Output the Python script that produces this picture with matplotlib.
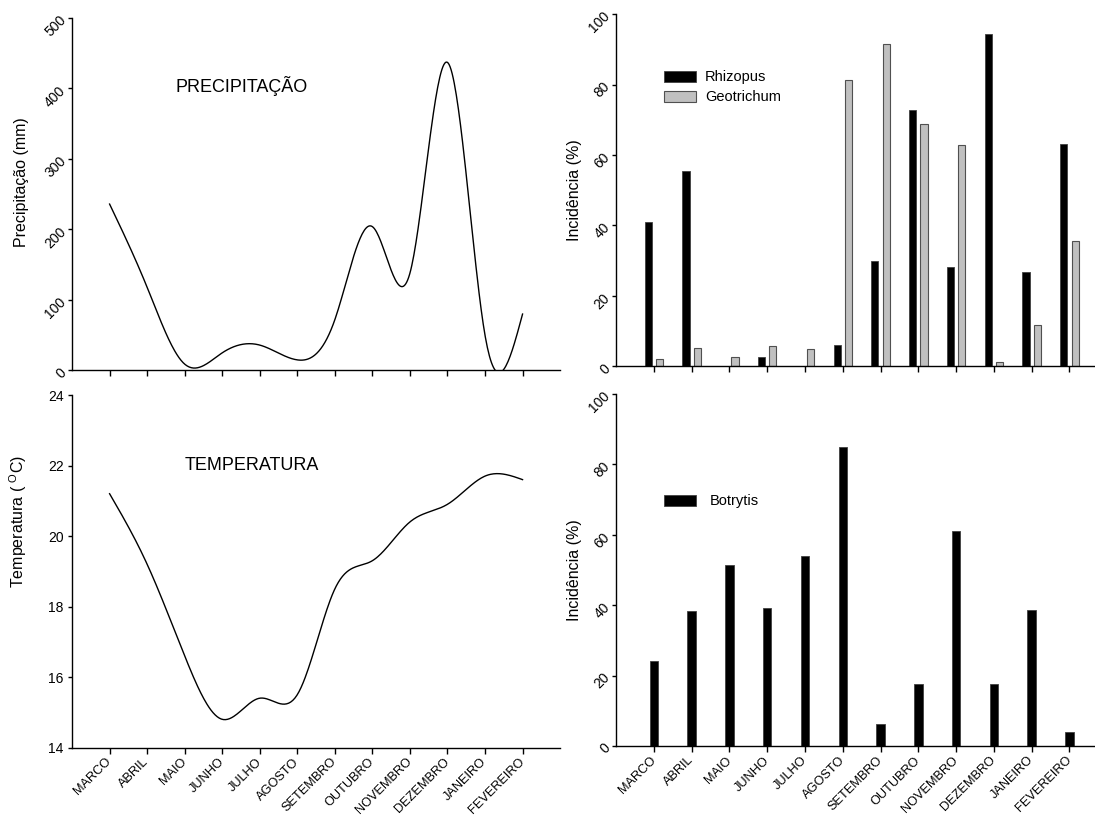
import numpy as np
import matplotlib
matplotlib.use('Agg')
import matplotlib.pyplot as plt

plt.rcParams['font.family'] = ['Liberation Sans', 'DejaVu Sans']
plt.rcParams['mathtext.default'] = 'regular'

meses = ['MARCO', 'ABRIL', 'MAIO', 'JUNHO', 'JULHO', 'AGOSTO', 'SETEMBRO',
         'OUTUBRO', 'NOVEMBRO', 'DEZEMBRO', 'JANEIRO', 'FEVEREIRO']

precipitacao = [236, 118, 9, 25, 36, 15, 72, 204, 138, 437, 50, 80]
temperatura = [21.2, 19.2, 16.6, 14.8, 15.4, 15.5, 18.5, 19.3, 20.4, 20.9, 21.7, 21.6]

rhizopus = [41.0, 55.4, 0, 2.8, 0, 6.0, 30.0, 72.7, 28.2, 94.2, 26.7, 63.1]
geotrichum = [2.1, 5.3, 2.6, 5.7, 4.9, 81.3, 91.4, 68.9, 62.7, 1.2, 11.7, 35.6]
botrytis = [24.1, 38.4, 51.4, 39.1, 54.0, 84.9, 6.3, 17.6, 61.1, 17.6, 38.5, 4.1]


def spline(x, y, n=400):
    # natural cubic spline, only used to draw a smooth line through the points
    x = np.asarray(x, float)
    y = np.asarray(y, float)
    m = len(x)
    h = np.diff(x)
    A = np.zeros((m, m))
    b = np.zeros(m)
    A[0, 0] = 1
    A[-1, -1] = 1
    for i in range(1, m - 1):
        A[i, i - 1] = h[i - 1]
        A[i, i] = 2 * (h[i - 1] + h[i])
        A[i, i + 1] = h[i]
        b[i] = 6 * ((y[i + 1] - y[i]) / h[i] - (y[i] - y[i - 1]) / h[i - 1])
    M = np.linalg.solve(A, b)
    xs = np.linspace(x[0], x[-1], n)
    k = np.clip(np.searchsorted(x, xs) - 1, 0, m - 2)
    t1 = x[k + 1] - xs
    t2 = xs - x[k]
    hk = h[k]
    ys = (M[k] * t1 ** 3 + M[k + 1] * t2 ** 3) / (6 * hk) \
        + (y[k] / hk - M[k] * hk / 6) * t1 + (y[k + 1] / hk - M[k + 1] * hk / 6) * t2
    return xs, ys


def style(ax, ylim, step, rot_y=True, labels=True):
    for s in ['top', 'right']:
        ax.spines[s].set_visible(False)
    for s in ['left', 'bottom']:
        ax.spines[s].set_linewidth(1.0)
    ax.set_xlim(-1, 12)
    ax.set_ylim(*ylim)
    ax.set_yticks(np.arange(ylim[0], ylim[1] + step / 2, step))
    ax.set_xticks(np.arange(len(meses)))
    ax.tick_params(axis='x', direction='out', length=4, width=1, pad=5, labelsize=9.2)
    ax.tick_params(axis='y', direction='out', length=3, width=1, pad=3, labelsize=10)
    if labels:
        ax.set_xticklabels(meses)
        plt.setp(ax.get_xticklabels(), rotation=45, ha='right', va='center',
                 rotation_mode='anchor')
    else:
        ax.set_xticklabels([])
    if rot_y:
        plt.setp(ax.get_yticklabels(), rotation=45, ha='right', va='center',
                 rotation_mode='anchor')


fig = plt.figure(figsize=(10.95, 8.16), dpi=100)

x = np.arange(len(meses))

# precipitacao
ax1 = fig.add_axes([0.0658, 0.5460, 0.4457, 0.4320])
xs, ys = spline(x, precipitacao)
ax1.plot(xs, ys, color='black', lw=1.0)
style(ax1, (0, 500), 100, rot_y=True, labels=False)
ax1.set_ylabel('Precipitação (mm)', fontsize=11.5)
ax1.yaxis.set_label_coords(-0.088, 0.535)
ax1.text(1.75, 404, 'PRECIPITAÇÃO', fontsize=13, ha='left', va='center')

# temperatura
ax3 = fig.add_axes([0.0658, 0.0839, 0.4457, 0.4320])
xs, ys = spline(x, temperatura)
ax3.plot(xs, ys, color='black', lw=1.0)
style(ax3, (14, 24), 2, rot_y=False, labels=True)
ax3.set_ylabel('Temperatura ( $^{O}$C)', fontsize=11.5)
ax3.yaxis.set_label_coords(-0.088, 0.64)
ax3.text(2.0, 22.0, 'TEMPERATURA', fontsize=13, ha='left', va='center')

# rhizopus / geotrichum
ax2 = fig.add_axes([0.5626, 0.5509, 0.4486, 0.4319])
ax2.bar(x - 0.15, rhizopus, width=0.19, color='black', edgecolor='#404040',
        linewidth=0.6, label='Rhizopus')
ax2.bar(x + 0.15, geotrichum, width=0.19, color='#c0c0c0', edgecolor='#505050',
        linewidth=0.8, label='Geotrichum')
style(ax2, (0, 100), 20, rot_y=True, labels=False)
ax2.set_ylabel('Incidência (%)', fontsize=11.5)
ax2.yaxis.set_label_coords(-0.07, 0.5)
ax2.legend(loc='upper left', bbox_to_anchor=(0.098, 0.84), frameon=False,
           fontsize=10.5, handlelength=2.2, handleheight=0.75, handletextpad=0.6,
           labelspacing=0.4, borderpad=0, borderaxespad=0)

# botrytis
ax4 = fig.add_axes([0.5626, 0.0858, 0.4486, 0.4314])
ax4.bar(x, botrytis, width=0.225, color='black', edgecolor='#404040',
        linewidth=0.6, label='Botrytis')
style(ax4, (0, 100), 20, rot_y=True, labels=True)
ax4.set_ylabel('Incidência (%)', fontsize=11.5)
ax4.yaxis.set_label_coords(-0.07, 0.5)
ax4.legend(loc='upper left', bbox_to_anchor=(0.098, 0.715), frameon=False,
           fontsize=10.5, handlelength=2.2, handleheight=0.75, handletextpad=0.9,
           borderpad=0, borderaxespad=0)

fig.savefig('out.png', dpi=100)
